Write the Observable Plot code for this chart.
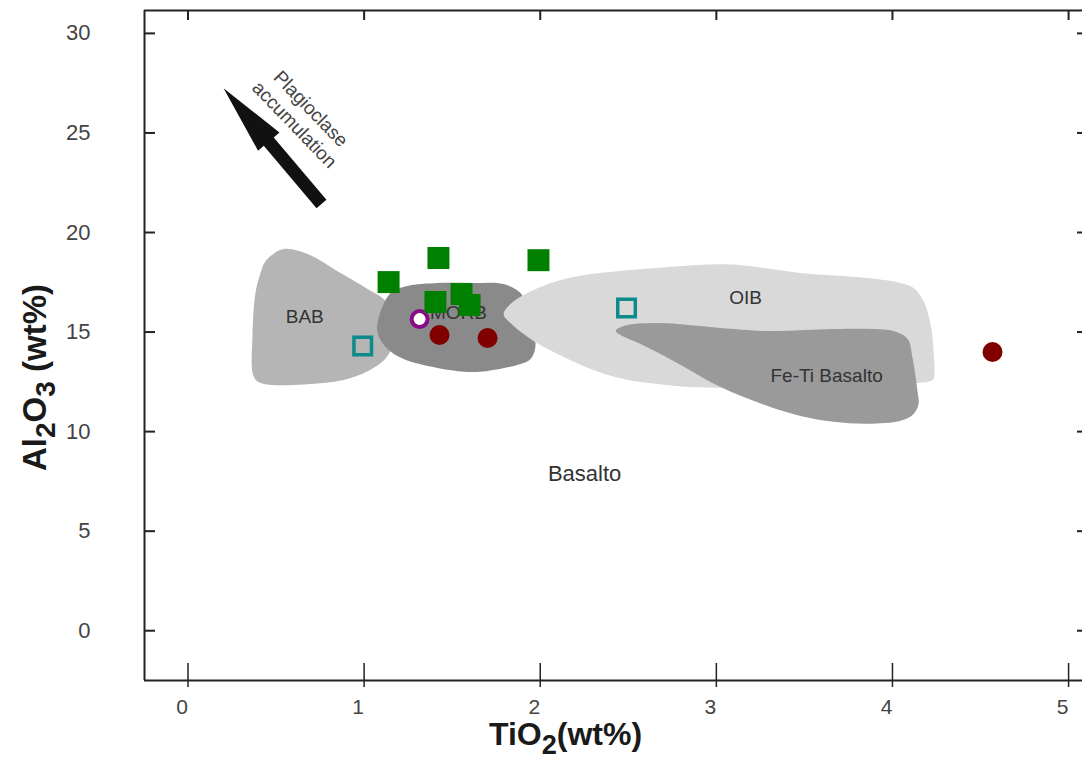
<!DOCTYPE html>
<html>
<head>
<meta charset="utf-8">
<script src="https://cdn.jsdelivr.net/npm/d3@7"></script>
<script src="https://cdn.jsdelivr.net/npm/@observablehq/plot@0.6"></script>
<style>
  html, body { margin: 0; padding: 0; background: #fff; }
  #chart { width: 1082px; height: 772px; }
</style>
</head>
<body>
<div id="chart"></div>
<script>
// Axis set-up: TiO2 (wt%) vs Al2O3 (wt%)
const xTicks = [0, 1, 2, 3, 4, 5];
const yTicks = [0, 5, 10, 15, 20, 25, 30];
const xDomain = [-0.247, 5.079];
const yDomain = [-2.5, 31.15];
const xTitle = [["TiO", false], ["2", true], ["(wt%)", false]];
const yTitle = [["Al", false], ["2", true], ["O", false], ["3", true], [" (wt%)", false]];

// Tectonic fields, outlines as [TiO2, Al2O3]
const babField = [
  [0.542, 19.17], [0.679, 18.92], [0.866, 17.96], [1.019, 17.16], [1.122, 16.56],
  [1.195, 15.30], [1.133, 13.80], [1.053, 13.20], [0.923, 12.69], [0.769, 12.44],
  [0.412, 12.44], [0.372, 12.79], [0.366, 14.80], [0.383, 16.96], [0.412, 17.96],
  [0.440, 18.56]
];
const morbField = [
  [1.076, 15.45], [1.150, 16.96], [1.246, 17.31], [1.417, 17.46], [1.604, 17.46],
  [1.792, 17.41], [1.888, 16.96], [1.934, 16.06], [1.973, 14.30], [1.945, 13.65],
  [1.888, 13.40], [1.701, 13.05], [1.587, 13.00], [1.417, 13.20], [1.224, 13.65],
  [1.133, 14.15], [1.082, 14.80]
];
const oibField = [
  [1.792, 15.91], [1.831, 16.41], [1.928, 16.96], [2.098, 17.56], [2.286, 17.91],
  [2.570, 18.16], [3.024, 18.41], [3.194, 18.31], [3.478, 17.96], [3.859, 17.71],
  [4.046, 17.46], [4.120, 17.21], [4.177, 16.56], [4.216, 15.40], [4.233, 14.05],
  [4.233, 12.64], [4.216, 12.54], [4.142, 12.44], [3.478, 12.19], [2.853, 12.24],
  [2.666, 12.39], [2.473, 12.64], [2.286, 13.15], [2.098, 13.90], [1.962, 14.55],
  [1.831, 15.45]
];
const feTiField = [
  [2.428, 15.05], [2.473, 15.30], [2.666, 15.45], [3.024, 15.20], [3.291, 15.05],
  [3.666, 15.15], [3.893, 15.15], [4.006, 15.05], [4.086, 14.65], [4.114, 13.70],
  [4.142, 12.04], [4.148, 11.39], [4.120, 10.89], [4.046, 10.54], [3.859, 10.39],
  [3.666, 10.49], [3.478, 10.79], [3.291, 11.29], [3.024, 12.24], [2.757, 13.55],
  [2.570, 14.40], [2.456, 14.85]
];
const fieldLabels = [
  { label: "BAB", x: 0.663, y: 15.76 },
  { label: "MORB", x: 1.536, y: 15.96 },
  { label: "OIB", x: 3.166, y: 16.71 },
  { label: "Fe-Ti Basalto", x: 3.626, y: 12.79 }
];
const basaltLabel = [{ label: "Basalto", x: 2.252, y: 7.88 }];

// Plagioclase accumulation trend
const trendTail = [0.758, 21.43];
const trendTip = [0.202, 27.25];
const trendNote = [{ label: "Plagioclase\naccumulation", x: 0.655, y: 25.85 }];

// Samples [TiO2, Al2O3]
const greenSquares = [
  [1.139, 17.51], [1.422, 18.72], [1.990, 18.61],
  [1.405, 16.51], [1.553, 16.91], [1.599, 16.36]
];
const tealSquares = [[0.992, 14.30], [2.490, 16.21]];
const redDots = [[1.428, 14.85], [1.701, 14.70], [4.568, 14.00]];
const purpleRing = [[1.315, 15.65]];

// Frame geometry
const W = 1082, H = 772, ML = 144, MR = 0, MT = 10, MB = 92;
const plotW = W - ML - MR, plotH = H - MT - MB;

// Filled arrow outline, built in screen space so the head keeps its shape
function arrowOutline(tail, tip, headLen, headHalf, shaftHalf) {
  const sx = d3.scaleLinear(xDomain, [ML, W - MR]);
  const sy = d3.scaleLinear(yDomain, [H - MB, MT]);
  const p0 = [sx(tail[0]), sy(tail[1])];
  const p1 = [sx(tip[0]), sy(tip[1])];
  const dx = p1[0] - p0[0], dy = p1[1] - p0[1], L = Math.hypot(dx, dy);
  const ux = dx / L, uy = dy / L, nx = -uy, ny = ux;
  const bx = p1[0] - ux * headLen, by = p1[1] - uy * headLen;
  const pts = [
    [p0[0] + nx * shaftHalf, p0[1] + ny * shaftHalf],
    [bx + nx * shaftHalf, by + ny * shaftHalf],
    [bx + nx * headHalf, by + ny * headHalf],
    p1,
    [bx - nx * headHalf, by - ny * headHalf],
    [bx - nx * shaftHalf, by - ny * shaftHalf],
    [p0[0] - nx * shaftHalf, p0[1] - ny * shaftHalf]
  ];
  return pts.map(([px, py]) => [sx.invert(px), sy.invert(py)]);
}
const arrowShape = arrowOutline(trendTail, trendTip, 70, 14, 6.5);

const px = d => d[0], py = d => d[1];
const field = (data, color) =>
  Plot.line(data, { x: px, y: py, fill: color, stroke: "none", curve: "catmull-rom-closed" });

const plot = Plot.plot({
  width: W, height: H,
  marginLeft: ML, marginRight: MR, marginTop: MT, marginBottom: MB,
  x: { domain: xDomain, axis: null },
  y: { domain: yDomain, axis: null },
  style: { fontFamily: "'Liberation Sans', Arial, sans-serif", background: "#fff", overflow: "visible" },
  marks: [
    field(babField, "#b5b5b5"),
    field(morbField, "#8a8a8a"),
    field(oibField, "#d9d9d9"),
    field(feTiField, "#9a9a9a"),

    Plot.text(fieldLabels, { x: "x", y: "y", text: "label", fontSize: 19, fill: "#333" }),
    Plot.text(basaltLabel, { x: "x", y: "y", text: "label", fontSize: 22, fill: "#333" }),

    Plot.line(arrowShape, { x: px, y: py, fill: "#111", stroke: "none", curve: "linear-closed" }),
    Plot.text(trendNote, { x: "x", y: "y", text: "label", rotate: 46, fontSize: 19, lineHeight: 1.2, fill: "#444" }),

    // frame: left, bottom and top edges
    Plot.ruleX([xDomain[0]], { stroke: "#222", strokeWidth: 2 }),
    Plot.ruleY([yDomain[0]], { stroke: "#222", strokeWidth: 2 }),
    Plot.ruleY([yDomain[1]], { stroke: "#222", strokeWidth: 2 }),

    // inward ticks
    Plot.tickX(xTicks, { x: d => d, insetTop: plotH - 17, insetBottom: -7, stroke: "#222", strokeWidth: 1.5 }),
    Plot.tickX(xTicks, { x: d => d, insetBottom: plotH - 10, stroke: "#222", strokeWidth: 2 }),
    Plot.tickY(yTicks, { y: d => d, insetRight: plotW - 11, stroke: "#222", strokeWidth: 2 }),
    Plot.tickY(yTicks, { y: d => d, insetLeft: plotW - 5, stroke: "#222", strokeWidth: 2 }),

    // tick labels
    Plot.text(xTicks, { x: d => d, text: d => String(d), frameAnchor: "bottom", dy: 33, dx: -6, fontSize: 21, fill: "#444" }),
    Plot.text(yTicks, { y: d => d, text: d => String(d), frameAnchor: "left", dx: -54, textAnchor: "end", fontSize: 22, fill: "#444" }),

    // axis titles
    Plot.text([xTitle.map(p => p[0]).join("")], { text: d => d, frameAnchor: "bottom", dy: 64, dx: -48, textAnchor: "middle", fontSize: 32, fontWeight: "bold", fill: "#1a1a1a" }),
    Plot.text([yTitle.map(p => p[0]).join("")], { text: d => d, frameAnchor: "left", rotate: -90, dx: -109, dy: 32, textAnchor: "middle", fontSize: 33, fontWeight: "bold", fill: "#1a1a1a" }),

    // samples
    Plot.dot(tealSquares, { x: px, y: py, symbol: "square", r: 9.9, stroke: "#0f8a8a", strokeWidth: 3.5, fill: "none" }),
    Plot.dot(redDots, { x: px, y: py, r: 10, fill: "#800000", stroke: "none" }),
    Plot.dot(purpleRing, { x: px, y: py, r: 8, stroke: "#880c88", strokeWidth: 4, fill: "#fff" }),
    Plot.dot(greenSquares, { x: px, y: py, symbol: "square", r: 12.4, fill: "#008000", stroke: "none" })
  ]
});

// Chemical formulas with subscripts
function setFormula(svg, parts) {
  const whole = parts.map(p => p[0]).join("");
  const t = Array.from(svg.querySelectorAll("text")).find(el => el.textContent === whole);
  if (!t) return;
  t.textContent = "";
  for (const [s, sub] of parts) {
    const ts = document.createElementNS("http://www.w3.org/2000/svg", "tspan");
    ts.textContent = s;
    if (sub) {
      ts.setAttribute("baseline-shift", "-32%");
      ts.setAttribute("font-size", "85%");
    }
    t.appendChild(ts);
  }
}
setFormula(plot, xTitle);
setFormula(plot, yTitle);

document.getElementById("chart").appendChild(plot);
</script>
</body>
</html>
